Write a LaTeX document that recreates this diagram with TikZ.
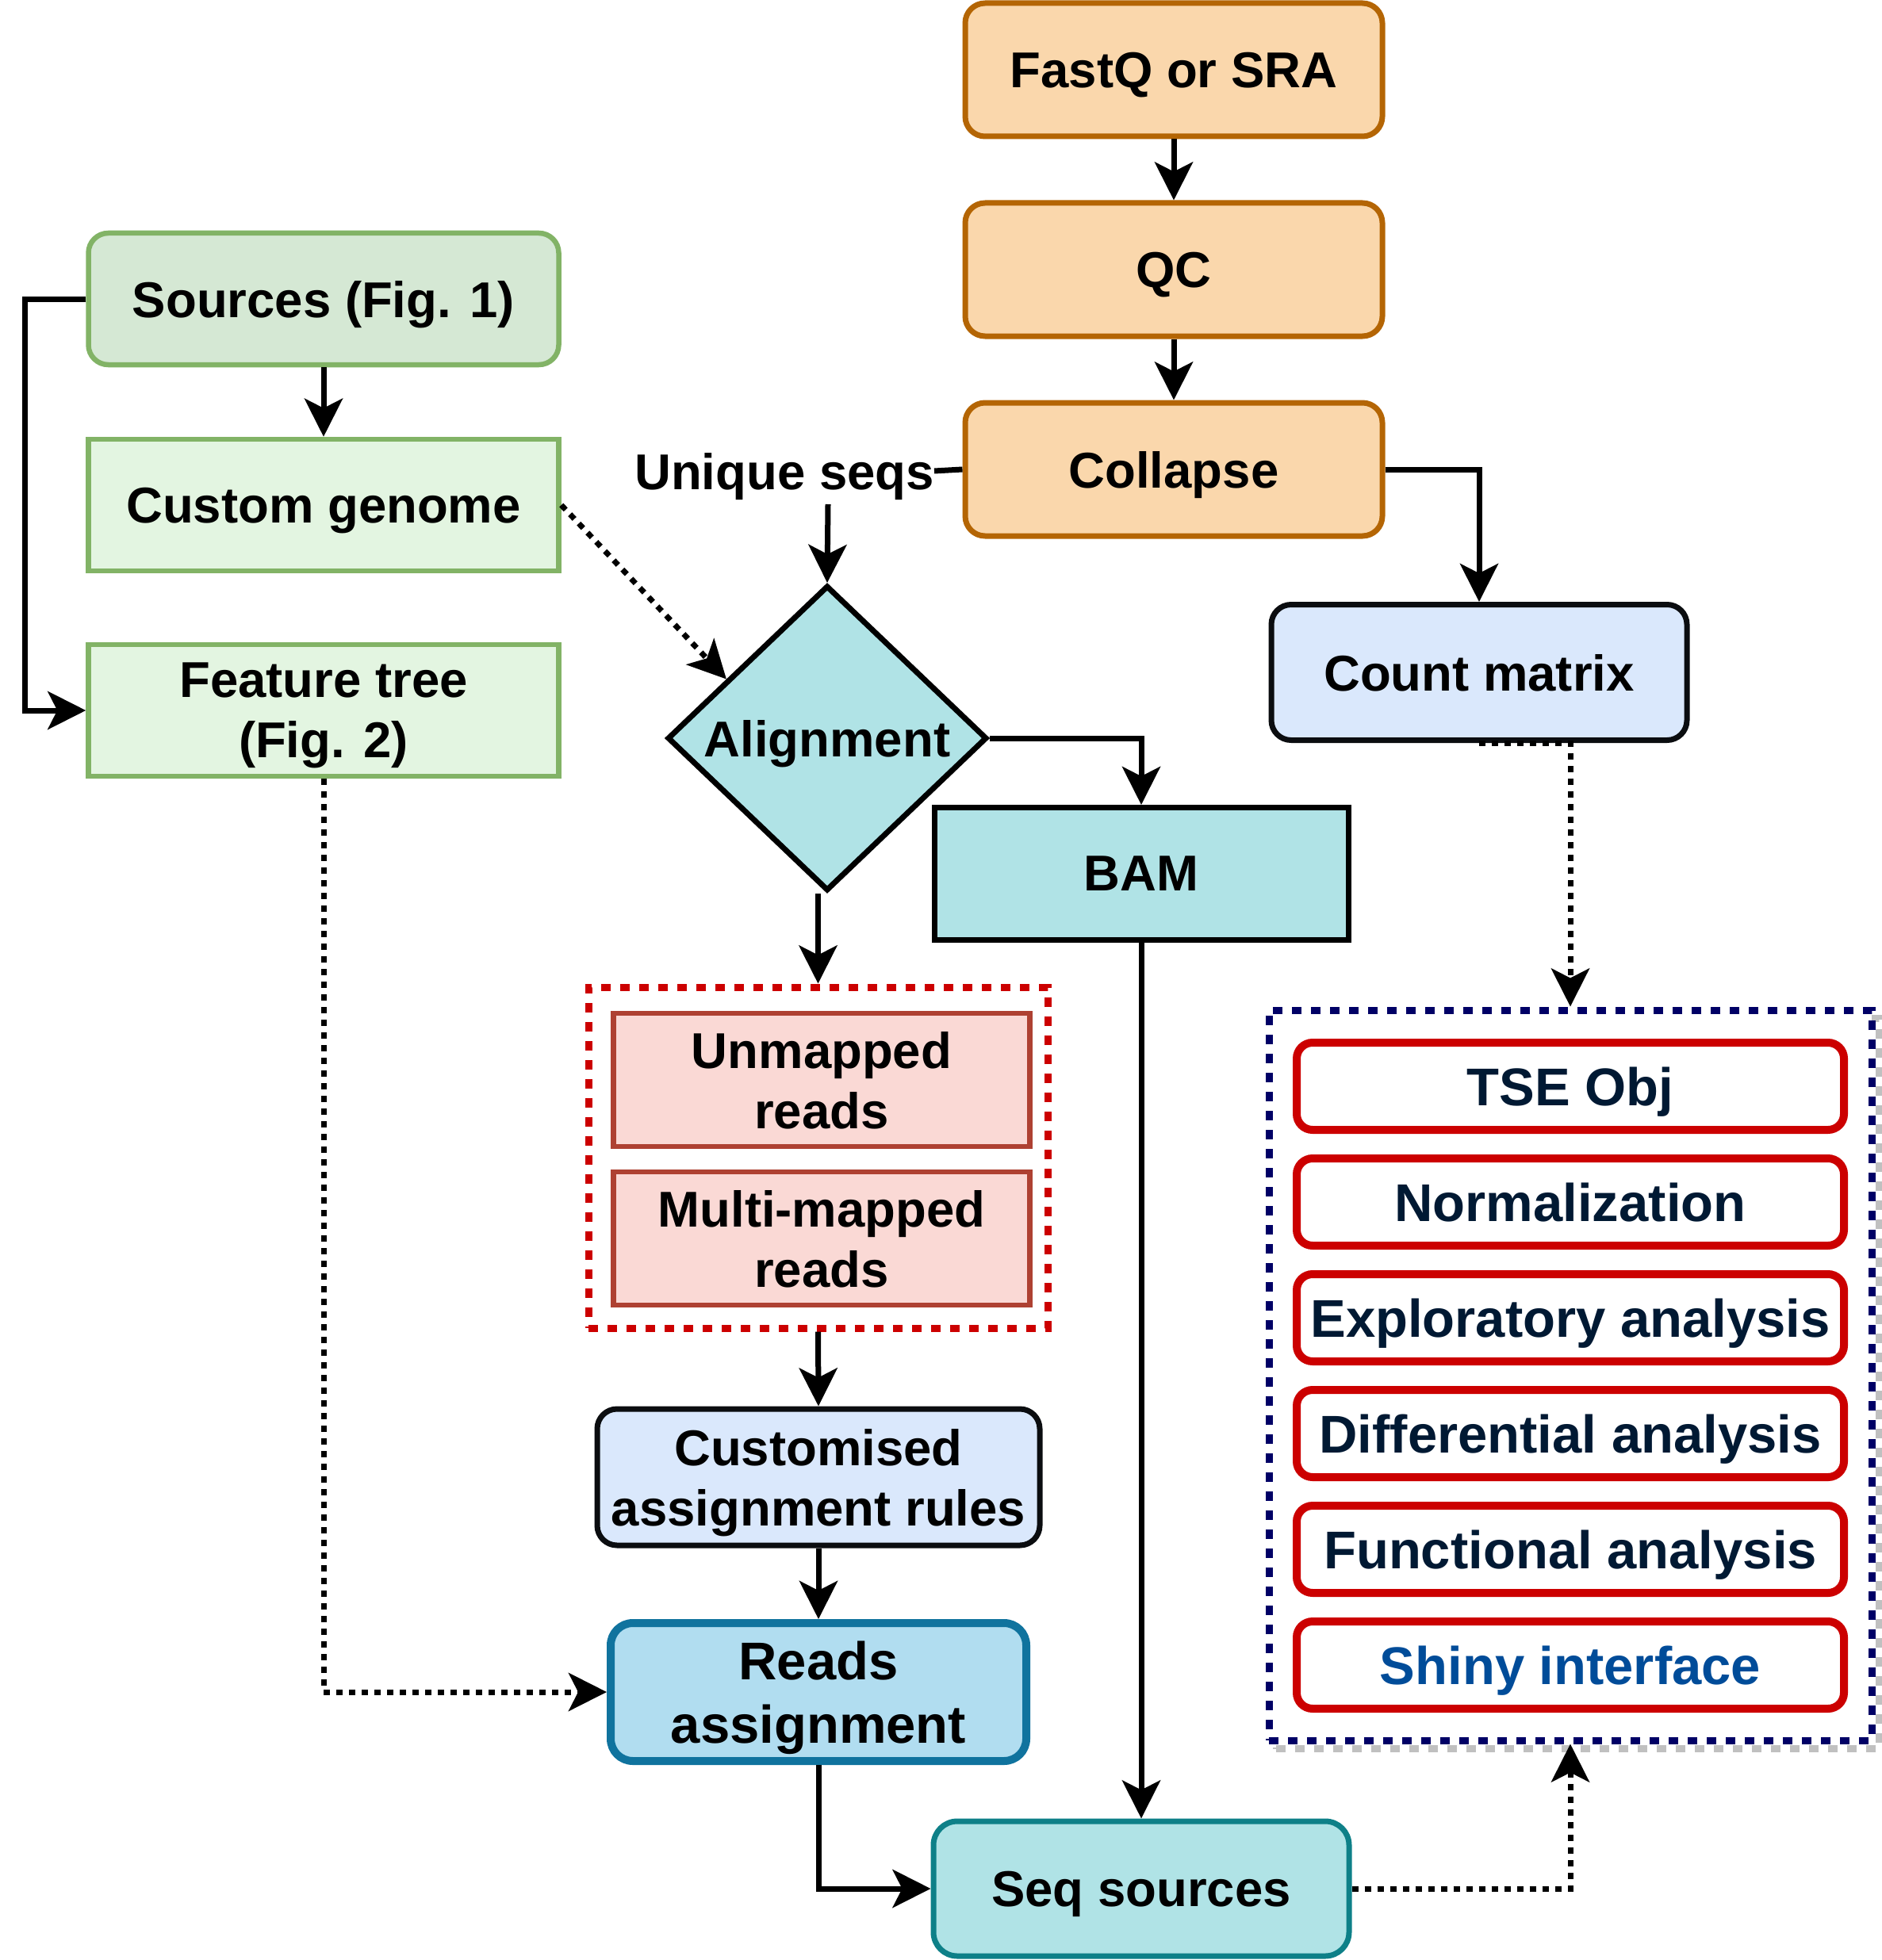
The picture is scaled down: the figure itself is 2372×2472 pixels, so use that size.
\documentclass[tikz,border=0pt]{standalone}
\usepackage{fontspec}
\setmainfont{Liberation Sans}
\usetikzlibrary{arrows.meta,shapes.geometric,calc}
\definecolor{orfill}{HTML}{FAD7AC}
\definecolor{orline}{HTML}{B46504}
\definecolor{grfill}{HTML}{D5E8D4}
\definecolor{grlight}{HTML}{E3F5E1}
\definecolor{grline}{HTML}{82B366}
\definecolor{cyfill}{HTML}{B0E3E6}
\definecolor{cyline}{HTML}{0E8088}
\definecolor{blfill}{HTML}{DAE8FC}
\definecolor{rafill}{HTML}{B1DDF0}
\definecolor{raline}{HTML}{10739E}
\definecolor{pkfill}{HTML}{FAD9D5}
\definecolor{pkline}{HTML}{AE4132}
\definecolor{redline}{HTML}{CC0000}
\definecolor{navy}{HTML}{000066}
\definecolor{navytext}{HTML}{001933}
\definecolor{shinyblue}{HTML}{004C99}
\definecolor{darkline}{HTML}{0B0D10}
\definecolor{shadowgrey}{HTML}{C0C0C0}
\begin{document}
\begin{tikzpicture}[x=1pt,y=-1pt,
  every node/.style={font=\fontsize{63.5}{76}\selectfont\bfseries, align=center, inner sep=0pt, text depth=0pt},
  orangebox/.style={draw=orline, fill=orfill, line width=7pt, rounded corners=25pt, minimum width=526pt, minimum height=168pt},
  greenbox/.style={draw=grline, fill=grlight, line width=6.5pt, minimum width=593pt, minimum height=166pt},
  cybox/.style={draw=black, fill=cyfill, line width=7pt, minimum width=522pt, minimum height=167pt},
  pinkbox/.style={draw=pkline, fill=pkfill, line width=6.5pt, minimum width=525pt, minimum height=168pt},
  innerbox/.style={draw=redline, fill=white, line width=10pt, rounded corners=20pt, minimum width=690pt, minimum height=110pt, text=navytext, font=\fontsize{67}{80}\selectfont\bfseries},
  conn/.style={draw=black, line width=7pt, -{Stealth[length=48pt,width=48pt,inset=12pt]}},
  plainline/.style={draw=black, line width=7pt},
  dotconn/.style={draw=black, line width=7pt, dash pattern=on 8pt off 8pt, -{Stealth[length=48pt,width=48pt,inset=12pt]}}
]
\useasboundingbox (0,0) rectangle (2372,2472);

% top orange chain
\node[orangebox] (fastq) at (1480,88) {FastQ or SRA};
\node[orangebox] (qc) at (1480,340) {QC};
\node[orangebox] (collapse) at (1480,592) {Collapse};

% left green column
\node[greenbox, fill=grfill, rounded corners=25pt] (sources) at (408,377) {Sources (Fig. 1)};
\node[greenbox] (custom) at (408,637) {Custom genome};
\node[greenbox] (feature) at (408,896) {Feature tree\\(Fig. 2)};

% unique seqs label
\node[anchor=east] (useq) at (1178,594) {Unique seqs};
\coordinate (ustart) at (1044,636);

% alignment diamond and BAM
\node[diamond, draw=black, fill=cyfill, line width=7pt, minimum width=403pt, minimum height=385pt] (align) at (1043,931) {Alignment};
\node[cybox] (bam) at (1439,1102) {BAM};

% count matrix
\node[draw=darkline, fill=blfill, line width=7pt, rounded corners=25pt, minimum width=524pt, minimum height=171pt] (count) at (1865,848) {Count matrix};

% red group
\node[draw=redline, line width=9pt, dash pattern=on 12pt off 12pt, minimum width=579pt, minimum height=430pt] (redgrp) at (1031.5,1460) {};
\node[pinkbox] (unmapped) at (1036,1362) {Unmapped\\reads};
\node[pinkbox] (multi) at (1036,1562) {Multi-mapped\\reads};

% customised rules and reads assignment
\node[draw=darkline, fill=blfill, line width=7pt, rounded corners=25pt, minimum width=558pt, minimum height=172pt] (rules) at (1032,1863) {Customised\\assignment rules};
\node[draw=raline, fill=rafill, line width=10pt, rounded corners=28pt, minimum width=524pt, minimum height=174pt, font=\fontsize{67}{80}\selectfont\bfseries] (reads) at (1032,2134) {Reads\\assignment};

% seq sources
\node[draw=cyline, fill=cyfill, line width=7pt, rounded corners=30pt, minimum width=524pt, minimum height=170pt] (seqsrc) at (1439,2382) {Seq sources};

% navy group with shadow
\node[draw=shadowgrey, line width=9pt, dash pattern=on 12pt off 12pt, minimum width=760pt, minimum height=921pt] (navyshadow) at (1989,1745) {};
\node[draw=navy, fill=white, line width=9pt, dash pattern=on 12pt off 12pt, minimum width=760pt, minimum height=921pt] (navygrp) at (1980,1734.5) {};
\node[innerbox] (tse) at (1980,1370) {TSE Obj};
\node[innerbox] (norm) at (1980,1516) {Normalization};
\node[innerbox] (expl) at (1980,1662) {Exploratory analysis};
\node[innerbox] (diff) at (1980,1808) {Differential analysis};
\node[innerbox] (func) at (1980,1954) {Functional analysis};
\node[innerbox, text=shinyblue] (shiny) at (1980,2100) {Shiny interface};

% connectors
\coordinate (lft) at (31,377);
\draw[conn] (fastq) -- (qc);
\draw[conn] (qc) -- (collapse);
\draw[conn] (collapse.east) -| (count.north);
\draw[plainline] (useq.east) -- (collapse.west);
\draw[conn] (ustart) -- (align.north);
\draw[dotconn] (custom.east) -- ($(align.west)!0.38!(align.north)$);
\draw[conn] (sources.west) -- (lft) |- (feature.west);
\draw[conn] (sources) -- (custom);
\draw[conn] (align.east) -| (bam.north);
\draw[conn] (align.south -| redgrp.north) -- (redgrp.north);
\draw[conn] (redgrp.south) -- (rules.north);
\draw[conn] (rules) -- (reads);
\draw[conn] (reads.south) |- (seqsrc.west);
\draw[conn] (bam) -- (seqsrc);
\draw[dotconn] (feature.south) |- (reads.west);
\draw[dotconn] (count.south) -| (navygrp.north);
\draw[dotconn] (seqsrc.east) -| (navygrp.south);
\end{tikzpicture}
\end{document}
